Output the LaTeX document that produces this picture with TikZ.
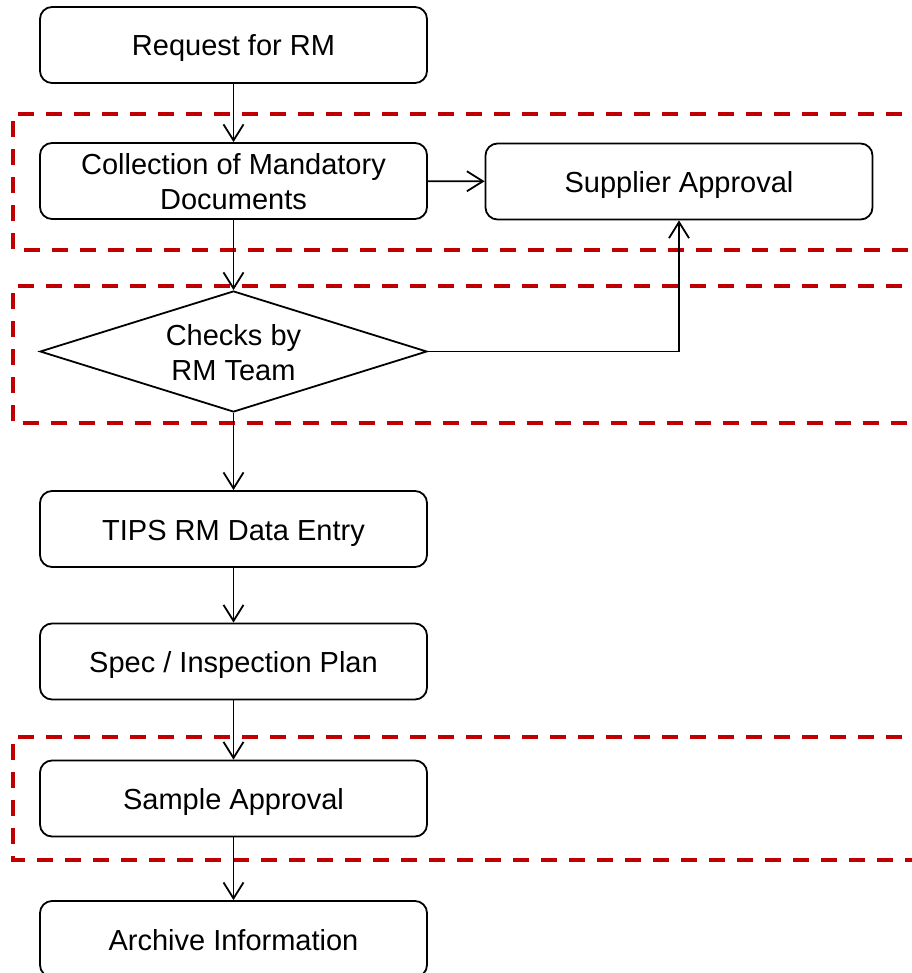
\documentclass[tikz,border=0pt]{standalone}
\usepackage{fontspec}
\setmainfont{Liberation Sans}
\usetikzlibrary{arrows.meta,shapes.geometric}
\definecolor{dashred}{RGB}{192,0,0}
\newcommand\ls{\rule[-6.5pt]{0pt}{35pt}}
\begin{document}
\begin{tikzpicture}[x=1pt,y=1pt,
  every node/.style={font=\fontsize{29}{35}\selectfont, align=center, inner sep=0pt},
  procbox/.style={draw=black, line width=1.8pt, rounded corners=12pt, minimum width=387pt, minimum height=76pt},
  decbox/.style={draw=black, line width=1.8pt, diamond, aspect=3.2, minimum width=387pt, minimum height=121pt},
  flow/.style={draw=black, line width=1.8pt, -{Straight Barb[length=16pt,width=20pt,line width=1.8pt]}},
  region/.style={draw=dashred, line width=4pt, dash pattern=on 16pt off 12pt}
]
\useasboundingbox (0,0) rectangle (911,-973);
% dashed regions
\draw[region] (930,-114) -- (13,-114) -- (13,-250) -- (930,-250);
\draw[region] (930,-286) -- (13,-286) -- (13,-423) -- (930,-423);
\draw[region] (930,-737) -- (13,-737) -- (13,-860) -- (930,-860);
% nodes
\node[procbox] (req) at (233.5,-45) {\ls Request for RM};
\node[procbox] (coll) at (233.5,-181) {\ls Collection of Mandatory\\Documents\ls};
\node[procbox] (sup) at (679,-181.5) {\ls Supplier Approval};
\node[decbox] (chk) at (233.5,-351.5) {\ls Checks by\\RM Team\ls};
\node[procbox] (tips) at (233.5,-529) {\ls TIPS RM Data Entry};
\node[procbox] (spec) at (233.5,-661.5) {\ls Spec / Inspection Plan};
\node[procbox] (samp) at (233.5,-798.5) {\ls Sample Approval};
\node[procbox] (arch) at (233.5,-939) {\ls Archive Information};
% connectors
\draw[flow] (req) -- (coll);
\draw[flow] (coll) -- (sup);
\draw[flow] (coll) -- (chk);
\draw[flow] (chk.east) -| (sup.south);
\draw[flow] (chk) -- (tips);
\draw[flow] (tips) -- (spec);
\draw[flow] (spec) -- (samp);
\draw[flow] (samp) -- (arch);
\end{tikzpicture}
\end{document}
